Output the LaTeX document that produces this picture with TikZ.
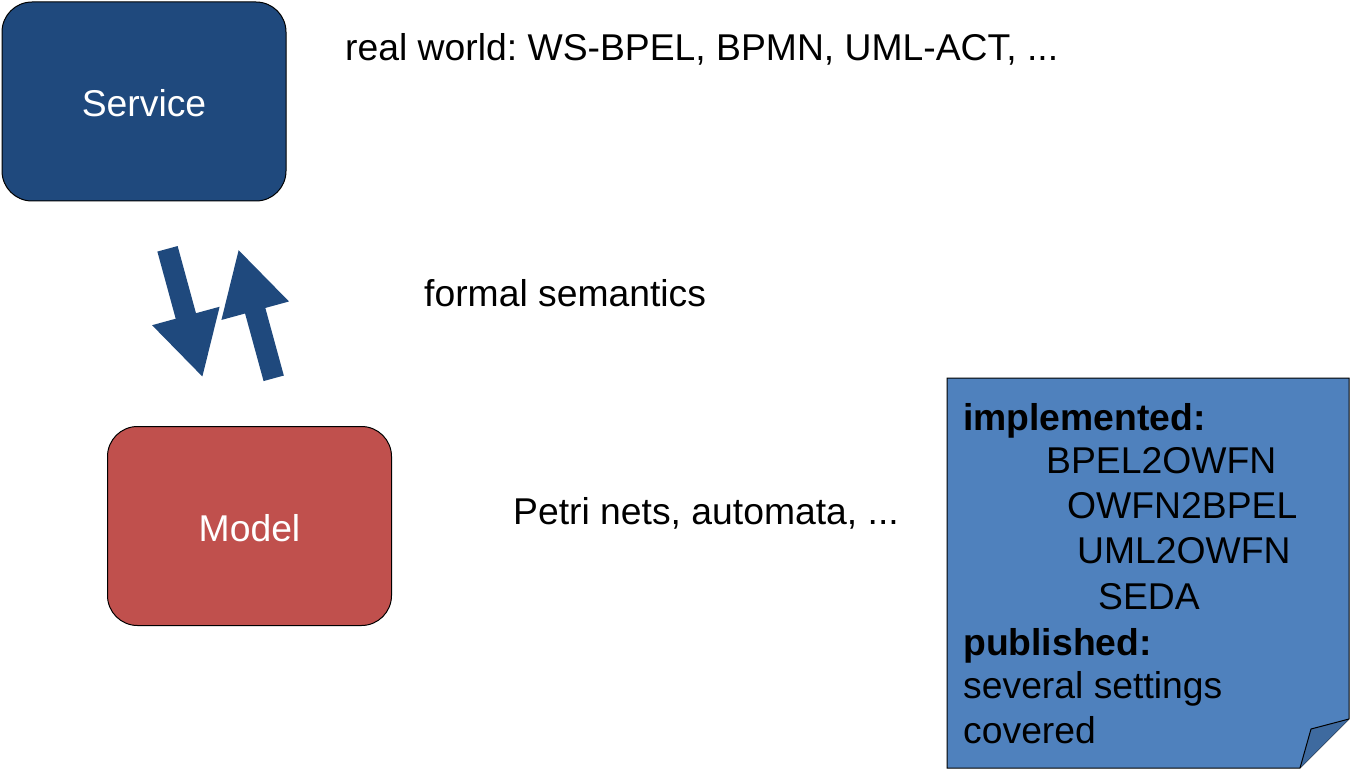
\documentclass[tikz,border=0pt]{standalone}
\usepackage{fontspec}
\setmainfont{Liberation Sans}
\usetikzlibrary{arrows.meta}

\definecolor{servblue}{HTML}{1F497D}
\definecolor{modelred}{HTML}{C0504D}
\definecolor{noteblue}{HTML}{4F81BD}
\definecolor{flapblue}{HTML}{3E6A9F}

\begin{document}
\begin{tikzpicture}[x=1pt,y=-1pt,
  box/.style={draw=black,line width=1pt,rounded corners=30pt,text=white,
    minimum width=284pt,minimum height=199pt,inner sep=0pt,
    text height=30pt,text depth=0pt},
  txt/.style={anchor=base west,inner sep=0pt},
  fatarrow/.style={draw=servblue,line width=21pt,
    -{Triangle[length=64pt,width=65pt]}}]
\useasboundingbox (0,0) rectangle (1351,770);
\fontsize{37.3}{45.5}\selectfont\frenchspacing

\node [box,fill=servblue] (service) at (144,101.5) {Service};
\node [box,fill=modelred] (model) at (249.5,526) {Model};

\node [txt] (realworld) at (345,61) {real world: WS-BPEL, BPMN, UML-ACT, ...};
\node [txt] (semantics) at (424,306) {formal semantics};
\node [txt] (petri) at (513,524) {Petri nets, automata, ...};

% the two fat arrows between Service and Model
\coordinate (dn-a) at (167.5,248.8);
\coordinate (dn-b) at (202.7,377.7);
\coordinate (up-a) at (273.7,378.3);
\coordinate (up-b) at (238.3,249);
\draw [fatarrow] (dn-a) -- (dn-b);
\draw [fatarrow] (up-a) -- (up-b);

% note with folded corner
\coordinate (n1) at (947,378);
\coordinate (n2) at (1349,378);
\coordinate (n3) at (1349,719);
\coordinate (n4) at (1300,768);
\coordinate (n5) at (947,768);
\coordinate (nf) at (1311,729);
\draw [fill=noteblue,line width=1pt] (n1) -- (n2) -- (n3) -- (n4) -- (n5) -- cycle;
\draw [fill=flapblue,line width=1pt] (n3) -- (nf) -- (n4);

\node [txt] (impl) at (963,430) {\bfseries implemented:};
\node [txt] (tool1) at (1046,473) {BPEL2OWFN};
\node [txt] (tool2) at (1067,518) {OWFN2BPEL};
\node [txt] (tool3) at (1077,563) {UML2OWFN};
\node [txt] (tool4) at (1098,609) {SEDA};
\node [txt] (publ) at (963,655) {\bfseries published:};
\node [txt] (sett) at (963,698) {several settings};
\node [txt] (cov) at (963,743) {covered};

\end{tikzpicture}
\end{document}
